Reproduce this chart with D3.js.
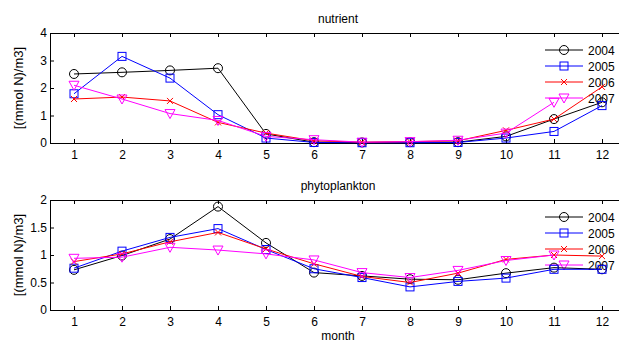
<!DOCTYPE html>
<html>
<head>
<meta charset="utf-8">
<script src="https://cdn.jsdelivr.net/npm/d3@7"></script>
<style>
  body { margin: 0; background: #fff; }
  svg { display: block; font-family: "Liberation Sans", Arial, sans-serif; }
</style>
</head>
<body>
<svg id="chart" width="619" height="343"></svg>
<script>
// meses y datos
const months = [1, 2, 3, 4, 5, 6, 7, 8, 9, 10, 11, 12];
const years = ['2004', '2005', '2006', '2007'];

const nutrient2004 = [2.51, 2.57, 2.64, 2.72, 0.33, 0.03, 0.02, 0.03, 0.03, 0.24, 0.87, 1.48];
const nutrient2005 = [1.79, 3.15, 2.36, 1.03, 0.18, 0.02, 0.01, 0.01, 0.02, 0.18, 0.42, 1.36];
const nutrient2006 = [1.60, 1.67, 1.53, 0.75, 0.36, 0.08, 0.03, 0.05, 0.08, 0.46, 0.87, 2.04];
const nutrient2007 = [2.10, 1.60, 1.07, 0.82, 0.24, 0.12, 0.03, 0.05, 0.10, 0.36, 1.48, null];

const phyto2004 = [0.73, 0.99, 1.29, 1.88, 1.22, 0.68, 0.62, 0.56, 0.55, 0.67, 0.77, 0.74];
const phyto2005 = [0.76, 1.07, 1.32, 1.48, 1.10, 0.75, 0.59, 0.42, 0.52, 0.58, 0.74, 0.74];
const phyto2006 = [0.88, 1.02, 1.24, 1.41, 1.11, 0.84, 0.61, 0.50, 0.67, 0.92, 1.00, 0.98];
const phyto2007 = [0.94, 0.96, 1.14, 1.09, 1.02, 0.91, 0.68, 0.59, 0.72, 0.90, 1.00, null];

const nutrientTicks = [0, 1, 2, 3, 4];
const phytoTicks = [0, 0.5, 1, 1.5, 2];

const colors = ['#000000', '#0000ff', '#ff0000', '#ff00ff'];
const markers = ['circle', 'square', 'cross', 'triangle'];

const svg = d3.select('#chart');

// Escala X común
const x = d3.scaleLinear().domain([0.5, 12.5]).range([50, 626]);

// Dibuja un marcador
function drawMarker(g, type, cx, cy, color) {
  if (type === 'circle') {
    g.append('circle').attr('cx', cx).attr('cy', cy).attr('r', 4.5)
      .attr('fill', 'none').attr('stroke', color);
  } else if (type === 'square') {
    g.append('rect').attr('x', cx - 4).attr('y', cy - 4).attr('width', 8).attr('height', 8)
      .attr('fill', 'none').attr('stroke', color);
  } else if (type === 'cross') {
    g.append('path').attr('d', `M${cx - 3},${cy - 3}L${cx + 3},${cy + 3}M${cx - 3},${cy + 3}L${cx + 3},${cy - 3}`)
      .attr('stroke', color);
  } else {
    g.append('path').attr('d', `M${cx - 5},${cy - 4}L${cx + 5},${cy - 4}L${cx},${cy + 5}Z`)
      .attr('fill', 'none').attr('stroke', color);
  }
}

function drawPanel(opts) {
  const { top, bottom, domain, ticks, title, series, xlabel } = opts;
  const y = d3.scaleLinear().domain(domain).range([bottom, top]);
  const g = svg.append('g');

  // Título
  g.append('text').attr('x', 338).attr('y', top - 10)
    .attr('text-anchor', 'middle').style('font-size', '12px').text(title);

  // Eje X inferior
  g.append('g')
    .attr('transform', `translate(0,${bottom})`)
    .call(d3.axisBottom(x).tickValues(months).tickSizeInner(-4).tickSizeOuter(0).tickPadding(7))
    .call(a => a.selectAll('text').style('font-size', '12px').attr('fill', '#000'));

  // Eje X superior (solo marcas)
  g.append('g')
    .attr('transform', `translate(0,${top})`)
    .call(d3.axisTop(x).tickValues(months).tickSizeInner(-4).tickSizeOuter(0).tickFormat(''));

  // Eje Y
  g.append('g')
    .attr('transform', 'translate(50,0)')
    .call(d3.axisLeft(y).tickValues(ticks).tickFormat(d => String(d))
      .tickSizeInner(-4).tickSizeOuter(0).tickPadding(3))
    .call(a => a.selectAll('text').style('font-size', '12px').attr('fill', '#000'));

  g.selectAll('.domain').attr('stroke', '#000');

  // Etiqueta Y
  g.append('text')
    .attr('transform', `translate(23,${(top + bottom) / 2}) rotate(-90)`)
    .attr('text-anchor', 'middle').style('font-size', '13px').text('[(mmol N)/m3]');

  if (xlabel) {
    g.append('text').attr('x', 338).attr('y', bottom + 30)
      .attr('text-anchor', 'middle').style('font-size', '12px').text(xlabel);
  }

  // Leyenda
  const leg = g.append('g');
  years.forEach((yr, i) => {
    const ly = top + 17 + i * 16;
    leg.append('line').attr('x1', 545).attr('x2', 583).attr('y1', ly).attr('y2', ly)
      .attr('stroke', colors[i]);
    drawMarker(leg, markers[i], 564, ly, colors[i]);
    leg.append('text').attr('x', 588).attr('y', ly + 4.5)
      .style('font-size', '12px').text(yr);
  });

  // Series
  const line = d3.line()
    .defined(d => d.v !== null)
    .x(d => x(d.m))
    .y(d => y(d.v));

  series.forEach((vals, i) => {
    const pts = months.map((m, j) => ({ m: m, v: vals[j] }));
    g.append('path').datum(pts)
      .attr('d', line).attr('fill', 'none').attr('stroke', colors[i]).attr('stroke-width', 1);
    const mg = g.append('g');
    pts.filter(d => d.v !== null).forEach(d => drawMarker(mg, markers[i], x(d.m), y(d.v), colors[i]));
  });
}

drawPanel({
  top: 33, bottom: 143, domain: [0, 4], ticks: nutrientTicks, title: 'nutrient',
  series: [nutrient2004, nutrient2005, nutrient2006, nutrient2007]
});

drawPanel({
  top: 200, bottom: 310, domain: [0, 2], ticks: phytoTicks, title: 'phytoplankton',
  series: [phyto2004, phyto2005, phyto2006, phyto2007], xlabel: 'month'
});
</script>
</body>
</html>
